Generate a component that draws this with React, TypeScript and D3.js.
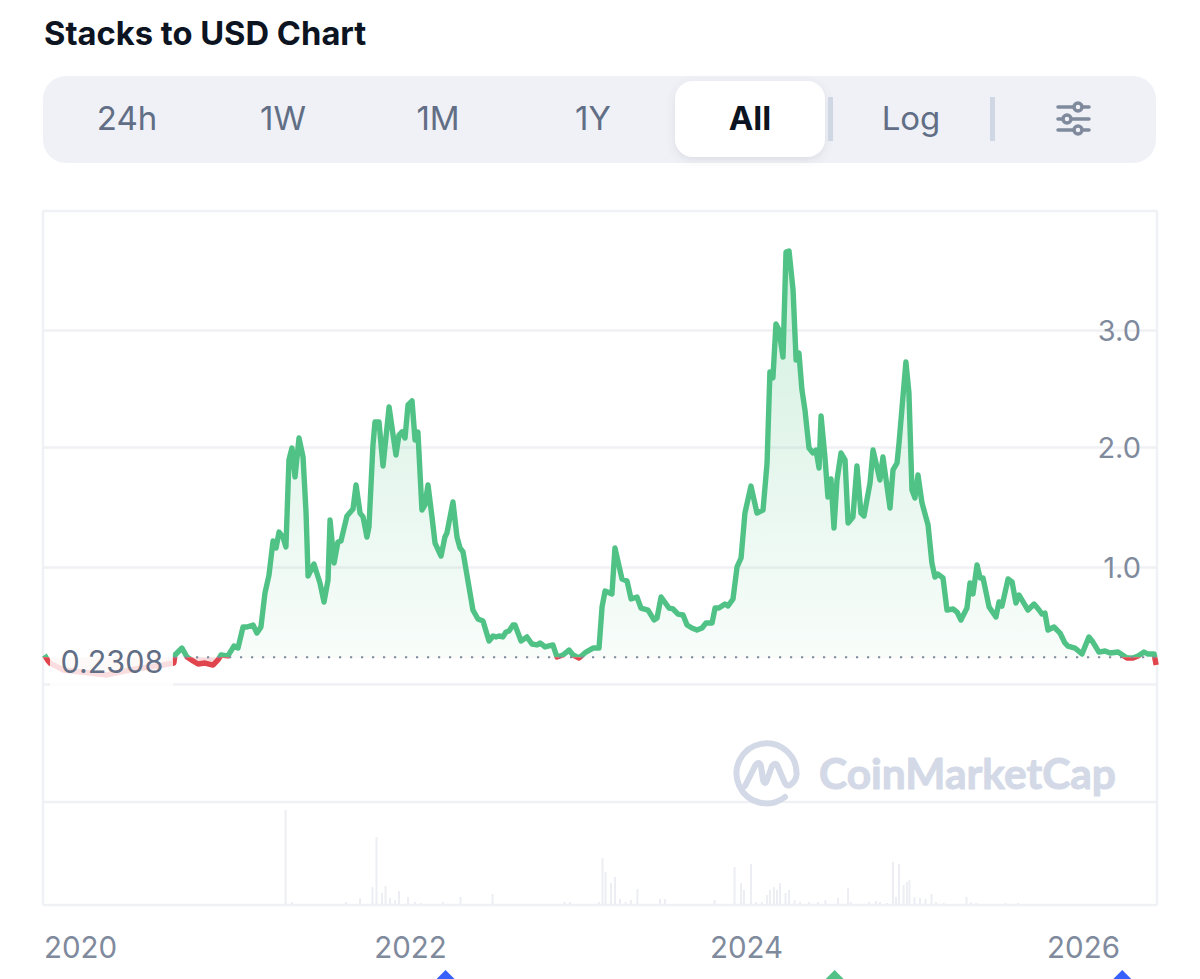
import React from "react";
import * as d3 from "d3";

const title = "Stacks to USD Chart";
const tabLabels = ["24h", "1W", "1M", "1Y", "All", "Log"];
const yearTicks = [2020, 2022, 2024, 2026];
const priceTicks = [1, 2, 3];
const gridValues = [0, 1, 2, 3];
const currentPrice = 0.2308;
const eventMarks: [number, string][] = [
  [2022.18, "#3861fb"],
  [2024.5, "#50c285"],
  [2026.215, "#3861fb"],
];

const pricePoints: [number, number][] = [
  [2019.788,.25],[2019.806,.208],[2019.821,.182],[2019.899,.123],[2020.161,.081],[2020.298,.123],[2020.495,.165],[2020.56,.182],
  [2020.566,.25],[2020.608,.309],[2020.638,.233],[2020.674,.199],[2020.704,.174],[2020.745,.182],[2020.793,.165],[2020.823,.208],
  [2020.841,.25],[2020.882,.242],[2020.918,.326],[2020.942,.309],[2020.972,.487],[2020.996,.487],[2021.032,.504],[2021.055,.436],
  [2021.079,.487],[2021.103,.775],[2021.127,.928],[2021.151,1.216],[2021.169,1.157],[2021.187,1.292],[2021.21,1.25],[2021.228,1.165],
  [2021.246,1.903],[2021.264,2.004],[2021.282,1.759],[2021.306,2.089],[2021.33,1.928],[2021.348,1.453],[2021.36,.92],[2021.395,1.021],
  [2021.431,.86],[2021.455,.699],[2021.479,.886],[2021.491,1.394],[2021.515,1.03],[2021.538,1.208],[2021.556,1.216],[2021.592,1.428],
  [2021.628,1.487],[2021.646,1.691],[2021.67,1.453],[2021.688,1.42],[2021.711,1.25],[2021.723,1.335],[2021.747,2.03],[2021.759,2.225],
  [2021.783,2.225],[2021.807,1.852],[2021.843,2.352],[2021.884,1.945],[2021.902,2.114],[2021.92,2.14],[2021.938,2.089],[2021.956,2.369],
  [2021.98,2.403],[2021.998,2.072],[2022.015,2.14],[2022.039,1.479],[2022.057,1.521],[2022.075,1.691],[2022.099,1.42],[2022.117,1.199],
  [2022.153,1.089],[2022.176,1.25],[2022.188,1.284],[2022.224,1.547],[2022.248,1.25],[2022.266,1.157],[2022.284,1.123],[2022.343,.631],
  [2022.373,.555],[2022.403,.538],[2022.439,.369],[2022.463,.411],[2022.481,.403],[2022.498,.411],[2022.522,.403],[2022.54,.445],
  [2022.558,.453],[2022.582,.504],[2022.594,.504],[2022.63,.369],[2022.665,.403],[2022.695,.343],[2022.725,.335],[2022.743,.352],
  [2022.773,.318],[2022.82,.335],[2022.844,.233],[2022.88,.25],[2022.916,.292],[2022.94,.25],[2022.976,.225],[2023.017,.275],
  [2023.059,.309],[2023.095,.309],[2023.113,.657],[2023.131,.792],[2023.172,.767],[2023.19,1.157],[2023.232,.894],[2023.262,.877],
  [2023.286,.725],[2023.321,.742],[2023.345,.648],[2023.387,.631],[2023.423,.547],[2023.441,.564],[2023.465,.742],[2023.512,.648],
  [2023.536,.64],[2023.566,.597],[2023.596,.589],[2023.62,.504],[2023.649,.479],[2023.679,.462],[2023.709,.479],[2023.733,.521],
  [2023.769,.521],[2023.787,.648],[2023.81,.648],[2023.846,.682],[2023.864,.665],[2023.894,.725],[2023.918,.996],[2023.942,1.072],
  [2023.965,1.453],[2024.001,1.682],[2024.037,1.453],[2024.073,1.479],[2024.097,1.877],[2024.114,2.648],[2024.132,2.598],[2024.15,3.055],
  [2024.168,3.004],[2024.192,2.775],[2024.21,3.665],[2024.228,3.674],[2024.252,3.343],[2024.27,2.75],[2024.287,2.809],[2024.305,2.496],
  [2024.323,2.326],[2024.347,2.004],[2024.371,1.962],[2024.389,1.987],[2024.407,1.835],[2024.419,2.275],[2024.442,1.928],[2024.46,1.589],
  [2024.478,1.742],[2024.496,1.326],[2024.514,1.733],[2024.538,1.962],[2024.562,1.903],[2024.58,1.369],[2024.609,1.42],[2024.633,1.852],
  [2024.657,1.453],[2024.675,1.428],[2024.711,1.708],[2024.729,1.987],[2024.77,1.733],[2024.788,1.928],[2024.83,1.496],[2024.848,1.818],
  [2024.872,1.877],[2024.884,2.047],[2024.925,2.733],[2024.943,2.47],[2024.961,1.648],[2024.979,1.581],[2024.997,1.775],[2025.021,1.538],
  [2025.057,1.352],[2025.08,1.03],[2025.098,.911],[2025.116,.936],[2025.146,.903],[2025.17,.631],[2025.206,.64],[2025.23,.614],
  [2025.253,.547],[2025.289,.648],[2025.307,.86],[2025.325,.767],[2025.349,1.013],[2025.367,.903],[2025.385,.903],[2025.421,.657],
  [2025.462,.572],[2025.48,.699],[2025.498,.665],[2025.534,.894],[2025.558,.869],[2025.581,.691],[2025.599,.759],[2025.653,.631],
  [2025.689,.682],[2025.719,.631],[2025.736,.597],[2025.754,.606],[2025.772,.462],[2025.808,.487],[2025.844,.436],[2025.873,.352],
  [2025.891,.326],[2025.933,.309],[2025.975,.258],[2026.016,.403],[2026.04,.36],[2026.076,.275],[2026.112,.284],[2026.142,.267],
  [2026.19,.275],[2026.243,.225],[2026.279,.225],[2026.309,.242],[2026.345,.275],[2026.369,.258],[2026.405,.258],[2026.417,.165],
];

const volumePoints: [number, number][] = [
  [2021.226,95],[2021.264,3],[2021.586,3],[2021.67,7],[2021.744,18],[2021.768,68],[2021.801,12],[2021.822,19],[2021.849,7],[2021.878,5],
  [2021.902,14],[2021.956,8],[2021.998,3],[2022.033,2],[2022.165,3],[2022.269,8],[2022.46,11],[2022.889,3],[2022.922,3],[2023.095,3],
  [2023.116,47],[2023.134,33],[2023.166,22],[2023.19,28],[2023.22,6],[2023.253,3],[2023.286,5],[2023.324,16],[2023.459,6],[2023.488,6],
  [2023.784,5],[2023.903,38],[2023.942,22],[2023.959,15],[2024.001,41],[2024.031,3],[2024.067,3],[2024.097,10],[2024.114,15],[2024.138,18],
  [2024.156,15],[2024.174,22],[2024.207,12],[2024.228,15],[2024.261,5],[2024.293,3],[2024.347,3],[2024.401,3],[2024.445,5],[2024.52,7],
  [2024.58,17],[2024.597,3],[2024.705,3],[2024.746,4],[2024.77,3],[2024.812,2],[2024.848,43],[2024.866,8],[2024.884,41],[2024.911,20],
  [2024.931,23],[2024.946,25],[2024.976,8],[2025.009,7],[2025.042,6],[2025.078,11],[2025.104,3],[2025.15,2],[2025.286,8],[2025.313,3],
  [2025.343,2],[2025.519,2],[2025.593,2],
];

const uiFont = "Inter, 'Noto Sans', sans-serif";
const gridColor = "#f0f1f5";
const greyText = "#808a9d";
const tabText = "#616e85";
const tabCenters = [127, 283, 438, 593, 750, 911];

const x = d3.scaleLinear().domain([2020, 2026]).range([80, 1086.2]);
// year labels sit slightly off the data scale in the reference
const xLabel = d3.scaleLinear().domain(yearTicks).range([80.5, 410.5, 746.5, 1083.5]);
const y = d3.scaleLinear().domain([0, 3]).range([684.5, 330.5]);
const yGrid = d3.scaleLinear().domain(gridValues).range([684.5, 567.5, 447.5, 330.5]);
const vol = d3.scaleLinear().domain([0, 103]).range([905, 802]);

const line = d3.line<[number, number]>().x((d) => x(d[0])).y((d) => y(d[1]));
const area = d3
  .area<[number, number]>()
  .x((d) => x(d[0]))
  .y0(y(currentPrice))
  .y1((d) => y(d[1]));

export default function App() {
  const baseY = y(currentPrice);
  return (
    <svg
      width={1200}
      height={979}
      viewBox="0 0 1200 979"
      style={{ position: "absolute", left: 0, top: 0, background: "#fff" }}
    >
      <defs>
        <linearGradient id="up" gradientUnits="userSpaceOnUse" x1="0" x2="0" y1={y(3.67)} y2={baseY}>
          <stop offset="0" stopColor="#50c285" stopOpacity={0.26} />
          <stop offset="1" stopColor="#50c285" stopOpacity={0.04} />
        </linearGradient>
        <clipPath id="above">
          <rect x={0} y={0} width={1200} height={baseY} />
        </clipPath>
        <clipPath id="below">
          <rect x={0} y={baseY} width={1200} height={200} />
        </clipPath>
        <filter id="tabShadow" x="-10%" y="-20%" width="120%" height="150%">
          <feDropShadow dx="0" dy="3" stdDeviation="4" floodColor="#58667e" floodOpacity="0.14" />
        </filter>
      </defs>

      <text x={44} y={45} fontFamily={uiFont} fontWeight={700} fontSize={32.7} fill="#0d1421">
        {title}
      </text>

      <rect x={43} y={76} width={1113} height={87} rx={23} fill="#eff1f6" />
      <rect x={675} y={81} width={150} height={76} rx={18} fill="#fff" filter="url(#tabShadow)" />
      <rect x={828} y={97} width={5} height={44} fill="#cfd6e4" />
      <rect x={990} y={97} width={5} height={44} fill="#cfd6e4" />
      {tabLabels.map((t, i) => (
        <text
          key={t}
          x={tabCenters[i]}
          y={130}
          textAnchor="middle"
          fontFamily={uiFont}
          fontSize={33}
          fontWeight={t === "All" ? 700 : 400}
          fill={t === "All" ? "#0d1421" : tabText}
        >
          {t}
        </text>
      ))}
      <g stroke="#808a9d" strokeWidth={3.5} strokeLinecap="round" fill="#eff1f6">
        <line x1={1058} x2={1089} y1={107} y2={107} />
        <line x1={1058} x2={1089} y1={119} y2={119} />
        <line x1={1058} x2={1089} y1={130} y2={130} />
        <circle cx={1078} cy={107} r={4} />
        <circle cx={1067} cy={119} r={4} />
        <circle cx={1078} cy={130} r={4} />
      </g>

      {/* frame and grid */}
      <g stroke={gridColor} strokeWidth={2.5} fill="none">
        <line x1={43} x2={1157} y1={211} y2={211} />
        <line x1={43} x2={43} y1={211} y2={905} />
        <line x1={1157} x2={1157} y1={211} y2={905} />
        <line x1={43} x2={1157} y1={905} y2={905} />
        <line x1={43} x2={1157} y1={802} y2={802} />
        {gridValues.map((v) => (
          <line key={v} x1={43} x2={1157} y1={yGrid(v)} y2={yGrid(v)} />
        ))}
      </g>

      {/* volume */}
      <g stroke="#eceef3" strokeWidth={2}>
        {volumePoints.map(([t, v]) => (
          <line key={t} x1={x(t)} x2={x(t)} y1={vol(0)} y2={vol(v)} />
        ))}
      </g>

      {/* watermark */}
      <g fill="none" stroke="#d3d9e6" strokeWidth={6} strokeLinecap="round" strokeLinejoin="round">
        <path d="M785 797 A30 30 0 1 1 796.5 775 Q796 781 790 785 Q786 787 784 781 L778 767 Q776 761 772 766 L767 780 Q765 786 763 780 L761 766 Q759 760 755 766 L745 786" />
      </g>
      <text
        x={819}
        y={789}
        fontFamily="Lato, 'Noto Sans', sans-serif"
        fontWeight={700}
        fontSize={42}
        fill="#d3d9e6"
        stroke="#d3d9e6"
        strokeWidth={1}
        strokeLinejoin="round"
        textLength={297}
        lengthAdjust="spacingAndGlyphs"
      >
        CoinMarketCap
      </text>

      {/* price */}
      <path d={area(pricePoints) ?? ""} fill="url(#up)" clipPath="url(#above)" />
      <path d={area(pricePoints) ?? ""} fill="#e0444c" fillOpacity={0.2} clipPath="url(#below)" />
      <path
        d={line(pricePoints) ?? ""}
        fill="none"
        stroke="#50c285"
        strokeWidth={5.4}
        strokeLinejoin="round"
        clipPath="url(#above)"
      />
      <path
        d={line(pricePoints) ?? ""}
        fill="none"
        stroke="#e0444c"
        strokeWidth={5.4}
        strokeLinejoin="round"
        clipPath="url(#below)"
      />
      <line
        x1={174}
        x2={1156}
        y1={baseY}
        y2={baseY}
        stroke="#808a9d"
        strokeWidth={2.2}
        strokeDasharray="2.2 8.8"
      />

      {/* current price label */}
      <rect x={50} y={648} width={123} height={38} fill="#fff" fillOpacity={0.82} />
      <text x={60.5} y={672.5} fontFamily={uiFont} fontSize={30.5} fill={tabText}>
        {currentPrice.toFixed(4)}
      </text>

      {priceTicks.map((v) => (
        <text key={v} x={1141} y={yGrid(v) + 10} textAnchor="end" fontFamily={uiFont} fontSize={29} fill={greyText}>
          {v.toFixed(1)}
        </text>
      ))}
      {yearTicks.map((t) => (
        <text key={t} x={xLabel(t)} y={958} textAnchor="middle" fontFamily={uiFont} fontSize={29.5} fill={greyText}>
          {t}
        </text>
      ))}
      {eventMarks.map(([t, c]) => (
        <path key={t} d={d3.line()([[x(t) - 10, 980], [x(t), 970], [x(t) + 10, 980], [x(t), 990]]) + "Z"} fill={c} />
      ))}
    </svg>
  );
}
